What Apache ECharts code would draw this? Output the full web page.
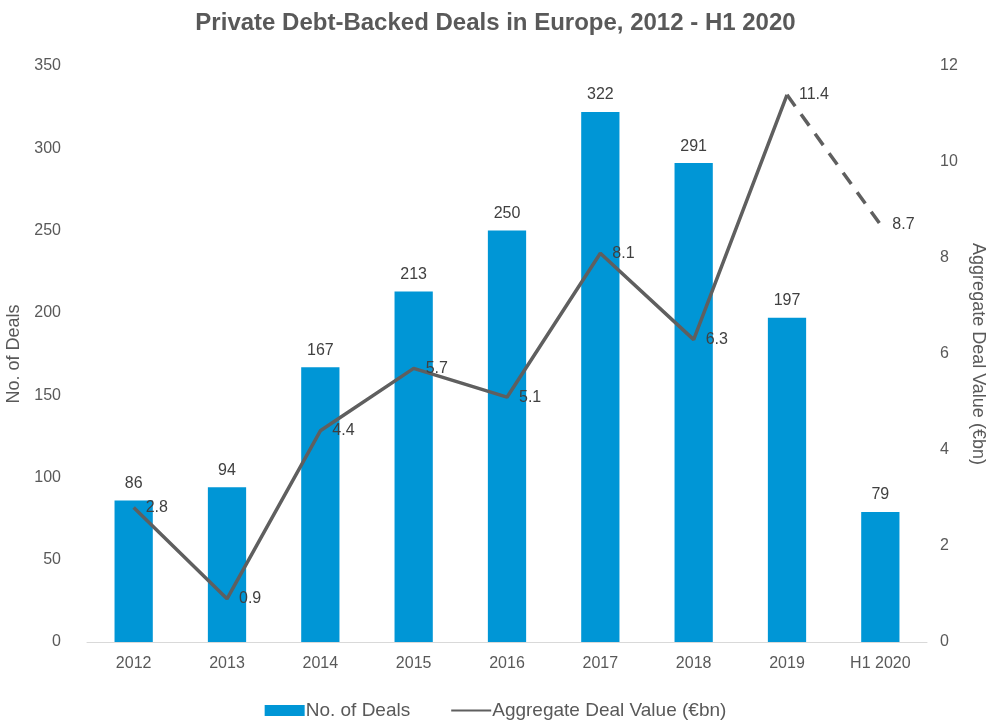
<!DOCTYPE html>
<html>
<head>
<meta charset="utf-8">
<script src="https://cdn.jsdelivr.net/npm/echarts@6/dist/echarts.min.js"></script>
<style>
  html, body { margin: 0; padding: 0; background: #fff; }
  #chart { width: 991px; height: 727px; }
</style>
</head>
<body>
<div id="chart"></div>
<script>
const categories = ['2012', '2013', '2014', '2015', '2016', '2017', '2018', '2019', 'H1 2020']
const dealCounts = [86, 94, 167, 213, 250, 322, 291, 197, 79]
const dealValues = [2.8, 0.9, 4.4, 5.7, 5.1, 8.1, 6.3, 11.4, 8.7]

// solid part stops at 2019, dashed part joins 2019 to H1 2020
const solidValues = dealValues.map((v, i) => i < dealValues.length - 1 ? v : null)
const dashedValues = dealValues.map((v, i) => i >= dealValues.length - 2 ? v : null)

const font = "'Liberation Sans Narrow', 'Arial Narrow', 'Liberation Sans', sans-serif"
const textColor = '#595959'
const lineColor = '#5f5f5f'

const lineLabel = {
  show: true,
  position: 'right',
  distance: 10,
  fontFamily: font,
  fontSize: 16,
  color: '#404040'
}

const chart = echarts.init(document.getElementById('chart'))
chart.setOption({
  animation: false,
  textStyle: { fontFamily: font },
  title: {
    text: 'Private Debt-Backed Deals in Europe, 2012 - H1 2020',
    left: 'center',
    top: 6,
    textStyle: { fontFamily: font, fontSize: 24, fontWeight: 'bold', color: textColor }
  },
  grid: { left: 87, right: 64, top: 66, bottom: 85, outerBoundsMode: 'none' },
  legend: {
    bottom: 2,
    left: 'center',
    itemGap: 40,
    itemWidth: 40,
    itemHeight: 11,
    data: [
      { name: 'No. of Deals', icon: 'rect' },
      { name: 'Aggregate Deal Value (€bn)' }
    ],
    textStyle: { fontFamily: font, fontSize: 19, color: textColor, padding: [0, 0, 0, -4] }
  },
  xAxis: {
    type: 'category',
    data: categories,
    axisLine: { lineStyle: { color: '#d9d9d9', width: 1 } },
    axisTick: { show: false },
    axisLabel: { fontFamily: font, fontSize: 16, color: textColor, margin: 14 }
  },
  yAxis: [{
    type: 'value',
    min: 0,
    max: 350,
    interval: 50,
    name: 'No. of Deals',
    nameLocation: 'middle',
    nameGap: 56,
    nameTextStyle: { fontFamily: font, fontSize: 18, color: textColor },
    splitLine: { show: false },
    axisLine: { show: false },
    axisTick: { show: false },
    axisLabel: { fontFamily: font, fontSize: 16, color: textColor, margin: 26 }
  }, {
    type: 'value',
    min: 0,
    max: 12,
    interval: 2,
    name: 'Aggregate Deal Value (€bn)',
    nameLocation: 'middle',
    nameRotate: -90,
    nameGap: 39,
    nameTextStyle: { fontFamily: font, fontSize: 18, color: textColor },
    splitLine: { show: false },
    axisLine: { show: false },
    axisTick: { show: false },
    axisLabel: { fontFamily: font, fontSize: 16, color: textColor, margin: 13 }
  }],
  series: [{
    name: 'No. of Deals',
    type: 'bar',
    data: dealCounts,
    barWidth: '41%',
    itemStyle: { color: '#0096d6' },
    label: {
      show: true,
      position: 'top',
      distance: 9,
      fontFamily: font,
      fontSize: 16,
      color: '#404040'
    }
  }, {
    name: 'Aggregate Deal Value (€bn)',
    type: 'line',
    yAxisIndex: 1,
    data: solidValues,
    symbol: 'circle',
    symbolSize: 4,
    showSymbol: true,
    lineStyle: { color: lineColor, width: 3.5 },
    itemStyle: { color: 'rgba(0,0,0,0)', borderWidth: 0 },
    label: lineLabel,
    z: 3
  }, {
    name: 'dashed',
    type: 'line',
    yAxisIndex: 1,
    data: dashedValues,
    symbol: 'circle',
    symbolSize: 4,
    showSymbol: true,
    lineStyle: { color: lineColor, width: 3.5, type: [14, 10] },
    itemStyle: { color: 'rgba(0,0,0,0)', borderWidth: 0 },
    label: Object.assign({}, lineLabel, {
      formatter: p => p.dataIndex === dealValues.length - 1 ? p.value : ''
    }),
    z: 3
  }]
})
</script>
</body>
</html>
